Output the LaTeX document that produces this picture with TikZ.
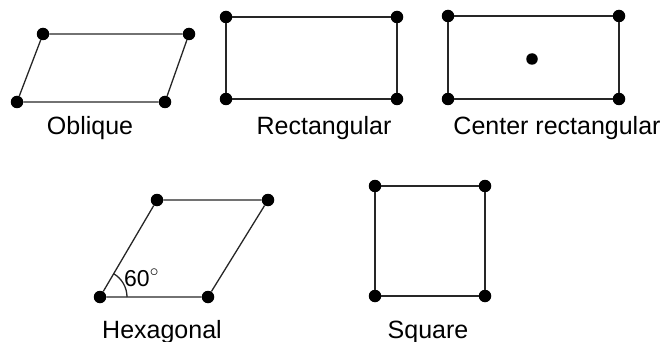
\documentclass[tikz,border=0pt]{standalone}
\usepackage{fontspec}
\setmainfont{Liberation Sans}
\usetikzlibrary{positioning}

\begin{document}
\begin{tikzpicture}[
    x=1pt, y=-1pt,
    dot/.style={circle, fill=black, inner sep=0pt, minimum size=12.5pt},
    cdot/.style={circle, fill=black, inner sep=0pt, minimum size=11.5pt},
    edge/.style={draw=black!85, line width=1.3pt},
    lbl/.style={anchor=base, inner sep=0pt, font=\fontsize{25}{30}\selectfont}
  ]
    \useasboundingbox (0,0) rectangle (661,342);

    % Oblique
    \node[dot] (ob1) at (17,102) {};
    \node[dot] (ob2) at (165,102) {};
    \node[dot] (ob3) at (189,34) {};
    \node[dot] (ob4) at (43,34) {};
    \draw[edge] (ob1) -- (ob2) -- (ob3) -- (ob4) -- (ob1);
    \node[lbl] (oblbl) at (90,135) {Oblique};

    % Rectangular
    \node[dot] (re1) at (226,99) {};
    \node[dot] (re2) at (397,99) {};
    \node[dot] (re3) at (397,17) {};
    \node[dot] (re4) at (226,17) {};
    \draw[edge] (re1) -- (re2) -- (re3) -- (re4) -- (re1);
    \node[lbl] (relbl) at (324,135) {Rectangular};

    % Center rectangular
    \node[dot] (cr1) at (448,99) {};
    \node[dot] (cr2) at (619,99) {};
    \node[dot] (cr3) at (619,16) {};
    \node[dot] (cr4) at (448,16) {};
    \node[cdot] (cr5) at (532,59) {};
    \draw[edge] (cr1) -- (cr2) -- (cr3) -- (cr4) -- (cr1);
    \node[lbl] (crlbl) at (557,135) {Center rectangular};

    % Hexagonal
    \node[dot] (hx1) at (100,297) {};
    \node[dot] (hx2) at (208,297) {};
    \node[dot] (hx3) at (268,200) {};
    \node[dot] (hx4) at (157,200) {};
    \draw[edge] (hx1) -- (hx2) -- (hx3) -- (hx4) -- (hx1);
    \draw[edge] ([xshift=27pt]hx1.center) arc[start angle=0, end angle=-60, radius=27];
    \node[anchor=base west, inner sep=0pt, font=\fontsize{23}{28}\selectfont] (hxang) at (124,286) {60$^\circ$};
    \node[lbl] (hxlbl) at (162,338) {Hexagonal};

    % Square
    \node[dot] (sq1) at (375,296) {};
    \node[dot] (sq2) at (485,296) {};
    \node[dot] (sq3) at (485,186) {};
    \node[dot] (sq4) at (375,186) {};
    \draw[edge] (sq1) -- (sq2) -- (sq3) -- (sq4) -- (sq1);
    \node[lbl] (sqlbl) at (428,338) {Square};
  \end{tikzpicture}
\end{document}
